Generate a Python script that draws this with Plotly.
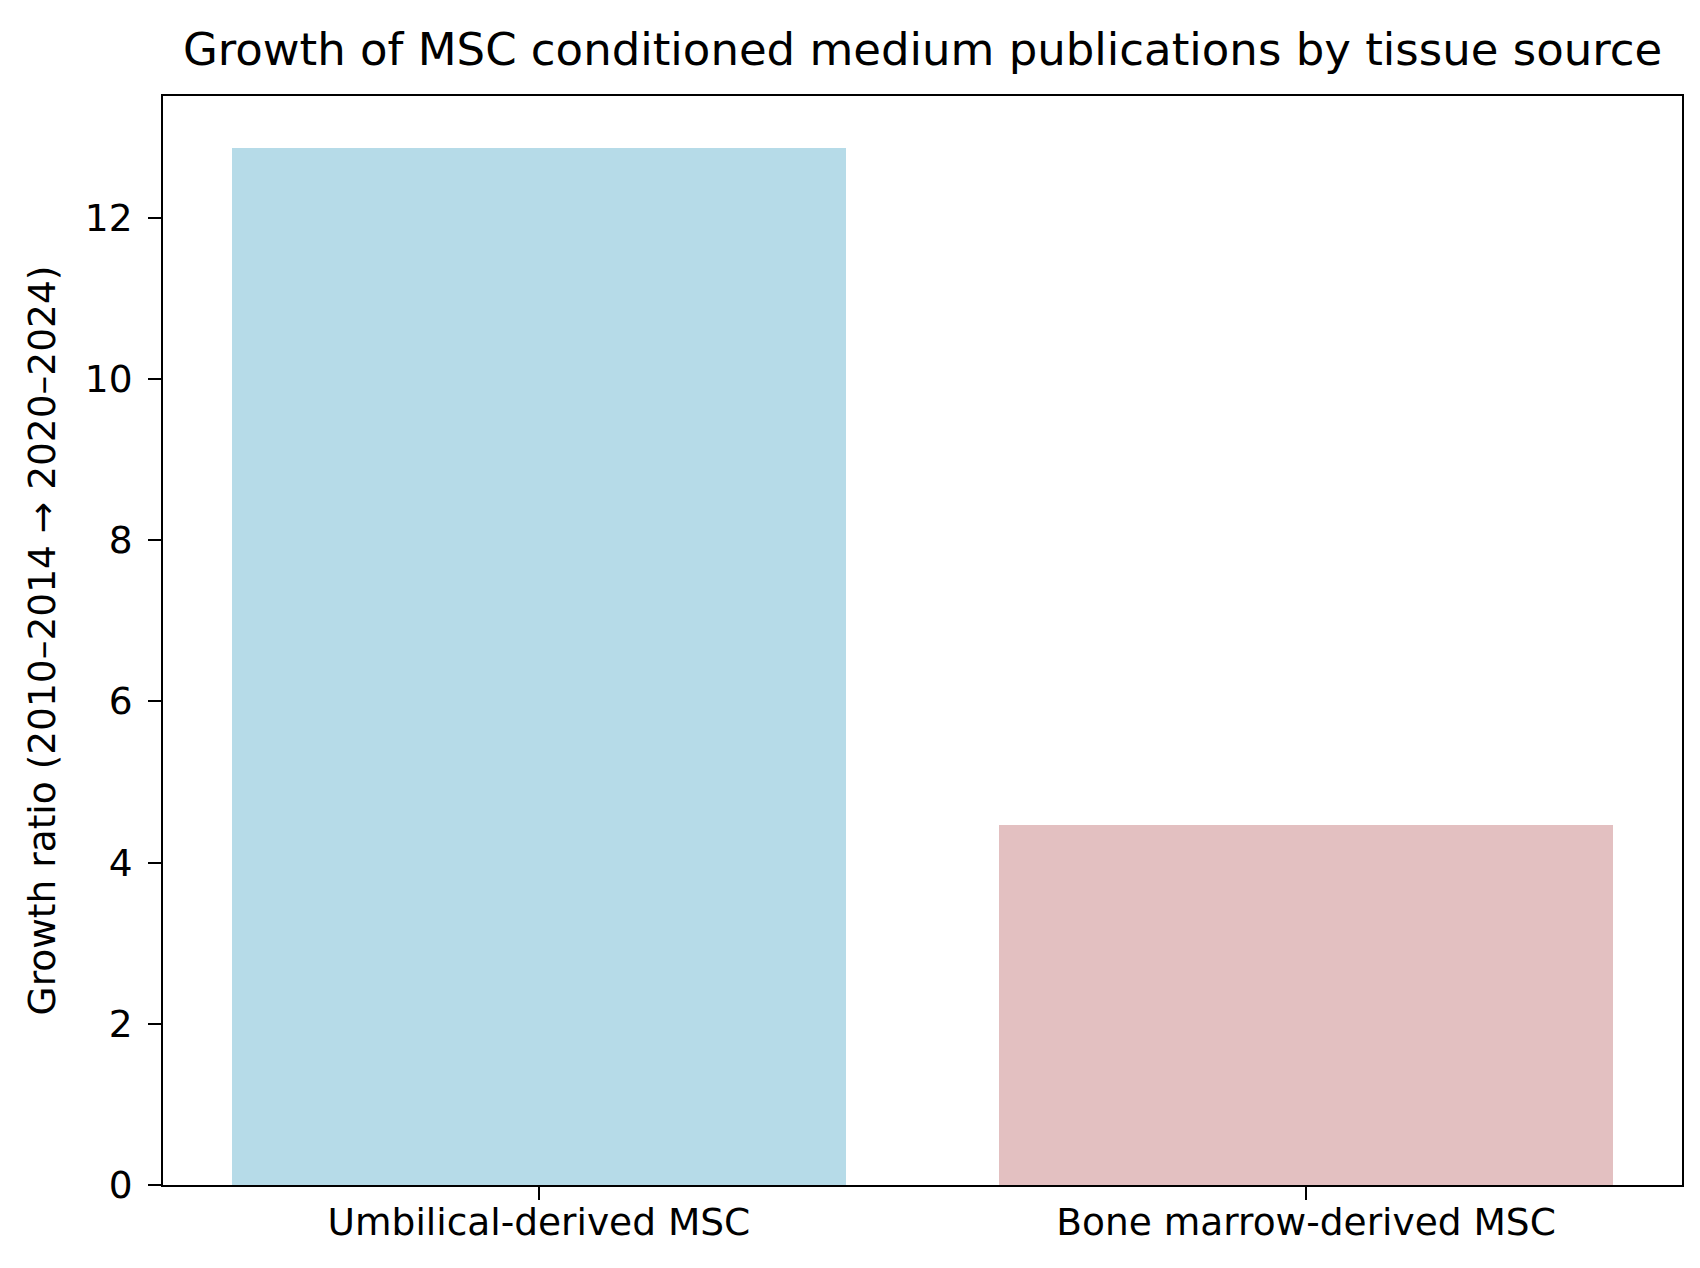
import plotly.graph_objects as go

categories = ["Umbilical-derived MSC", "Bone marrow-derived MSC"]
growth_ratio = [12.87, 4.47]
bar_colors = ["#b6dbe8", "#e3c0c1"]
y_ticks = [0, 2, 4, 6, 8, 10, 12]

W, H = 1700, 1268
FONT = "DejaVu Sans"

fig = go.Figure()
fig.add_trace(go.Bar(
    x=[0, 1], y=growth_ratio, width=0.8,
    marker=dict(color=bar_colors, line=dict(width=0)),
    showlegend=False,
))

fig.update_layout(
    width=W, height=H,
    margin=dict(l=155, r=26, t=88, b=91),
    paper_bgcolor="white", plot_bgcolor="white",
    font=dict(family=FONT, color="black", size=37),
    title=dict(text="Growth of MSC conditioned medium publications by tissue source",
               x=(179 + 1650) / 2 / W, xanchor="center",
               y=1 - 41 / H, yanchor="middle", yref="container",
               font=dict(family=FONT, size=45, color="black")),
    bargap=0,
)
fig.update_xaxes(
    range=[-0.49, 1.49], tickmode="array", tickvals=[0, 1], ticktext=categories,
    showgrid=False, zeroline=False,
    showline=True, linecolor="black", linewidth=2, mirror=True,
    ticks="outside", ticklen=13, tickwidth=2, tickcolor="black",
    tickfont=dict(family=FONT, size=37.5), ticklabelstandoff=-10,
)
fig.update_yaxes(
    range=[0, 13.51], tickmode="array", tickvals=y_ticks,
    showgrid=False, zeroline=False,
    showline=True, linecolor="black", linewidth=2, mirror=True,
    ticks="outside", ticklen=13, tickwidth=2, tickcolor="black",
    tickfont=dict(family=FONT, size=37.5), ticklabelstandoff=8,
    title=dict(text="Growth ratio (2010–2014 → 2020–2024)",
               font=dict(family=FONT, size=37.5), standoff=18),
)

fig.write_html("out.html")
